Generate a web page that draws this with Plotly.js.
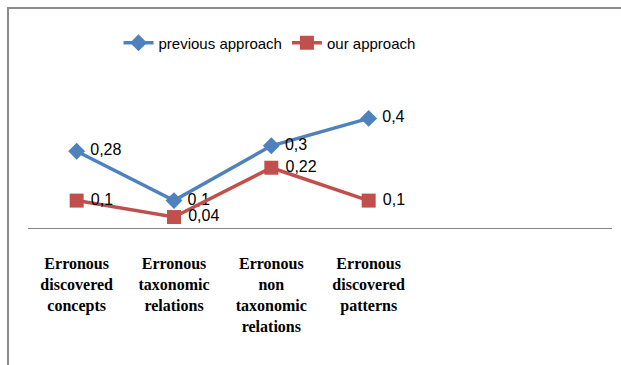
<!DOCTYPE html>
<html><head><meta charset="utf-8">
<script src="https://cdn.plot.ly/plotly-3.0.1.min.js"></script>
<style>
html,body{margin:0;padding:0;background:#fff;}
#frame{position:absolute;left:7px;top:7px;width:700px;height:400px;border:2px solid #8c8c8c;}
#chart{position:absolute;left:0;top:0;width:621px;height:365px;}
</style></head>
<body>
<div id="frame"></div>
<div id="chart"></div>
<script>
const categories = [
  "Erronous<br>discovered<br>concepts",
  "Erronous<br>taxonomic<br>relations",
  "Erronous<br>non<br>taxonomic<br>relations",
  "Erronous<br>discovered<br>patterns"
];
const previousApproach = [0.28, 0.1, 0.3, 0.4];
const ourApproach = [0.1, 0.04, 0.22, 0.1];
const seriesNames = ["previous approach", "our approach"];

const xs = categories.map((c, i) => i);
const fmt = v => String(v).replace('.', ',');
const sans = "Liberation Sans, Arial, sans-serif";

const traces = [
  {
    x: xs, y: previousApproach, name: seriesNames[0], type: 'scatter', mode: 'lines+markers+text',
    line: {color: '#4F81BD', width: 3.5},
    marker: {symbol: 'diamond', size: 13, color: '#4F81BD'},
    text: previousApproach.map(v => ' ' + fmt(v)),
    textposition: 'middle right',
    textfont: {family: sans, size: 16, color: '#000'},
    cliponaxis: false
  },
  {
    x: xs, y: ourApproach, name: seriesNames[1], type: 'scatter', mode: 'lines+markers+text',
    line: {color: '#C0504D', width: 3.5},
    marker: {symbol: 'square', size: 14, color: '#C0504D'},
    text: ourApproach.map(v => ' ' + fmt(v)),
    textposition: 'middle right',
    textfont: {family: sans, size: 16, color: '#000'},
    cliponaxis: false
  }
];

const layout = {
  width: 621, height: 365,
  margin: {l: 28, r: 9, t: 91, b: 137},
  paper_bgcolor: 'rgba(0,0,0,0)', plot_bgcolor: 'rgba(0,0,0,0)',
  showlegend: true,
  legend: {orientation: 'h', x: 0.155, xanchor: 'left', y: 1.35, yanchor: 'middle',
    font: {family: sans, size: 15, color: '#000'}, itemwidth: 30, tracegroupgap: 0},
  xaxis: {
    range: [-0.5, 5.5], tickmode: 'array', tickvals: xs, ticktext: categories,
    showgrid: false, zeroline: false, showline: true, linecolor: '#868686', linewidth: 1,
    ticks: '', ticklabelstandoff: 21,
    tickfont: {family: "Liberation Serif, Times New Roman, serif", size: 16, color: '#000', weight: 'bold'}
  },
  yaxis: {range: [0, 0.5], visible: false, showgrid: false, zeroline: false, fixedrange: true}
};

Plotly.newPlot('chart', traces, layout, {displayModeBar: false, staticPlot: true});
</script>
</body></html>
